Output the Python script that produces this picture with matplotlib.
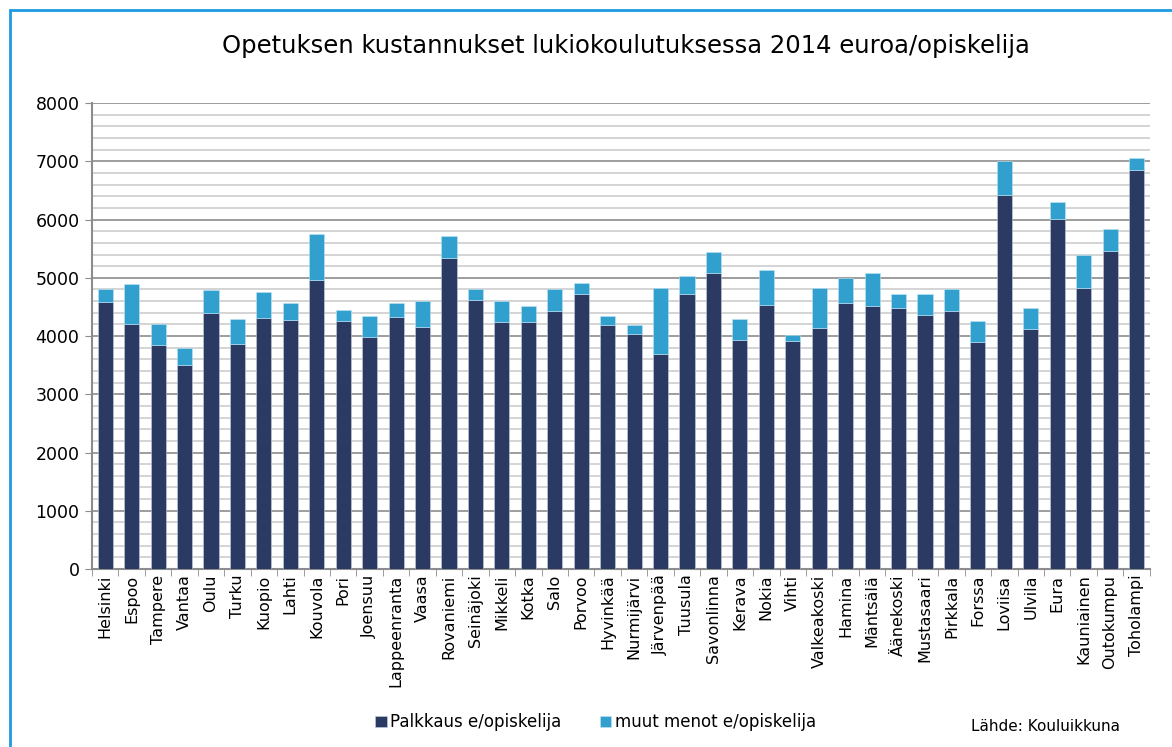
import matplotlib.pyplot as plt
from matplotlib.patches import Rectangle
from matplotlib.ticker import MultipleLocator

kunnat = ["Helsinki", "Espoo", "Tampere", "Vantaa", "Oulu", "Turku", "Kuopio", "Lahti",
          "Kouvola", "Pori", "Joensuu", "Lappeenranta", "Vaasa", "Rovaniemi", "Seinäjoki",
          "Mikkeli", "Kotka", "Salo", "Porvoo", "Hyvinkää", "Nurmijärvi", "Järvenpää",
          "Tuusula", "Savonlinna", "Kerava", "Nokia", "Vihti", "Valkeakoski", "Hamina",
          "Mäntsälä", "Äänekoski", "Mustasaari", "Pirkkala", "Forssa", "Loviisa", "Ulvila",
          "Eura", "Kauniainen", "Outokumpu", "Toholampi"]

# palkkaus e/opiskelija
palkkaus = [4590, 4205, 3840, 3500, 4395, 3870, 4305, 4275, 4970, 4255,
            3980, 4330, 4155, 5340, 4615, 4240, 4240, 4430, 4720, 4185,
            4030, 3690, 4720, 5080, 3930, 4530, 3910, 4135, 4575, 4515,
            4480, 4355, 4430, 3905, 6430, 4120, 6010, 4825, 5460, 6850]

# yhteensä (palkkaus + muut menot)
yhteensa = [4800, 4895, 4210, 3795, 4785, 4290, 4750, 4560, 5745, 4455,
            4345, 4570, 4595, 5720, 4800, 4595, 4515, 4815, 4910, 4345,
            4190, 4825, 5035, 5435, 4285, 5135, 4020, 4825, 5000, 5075,
            4730, 4725, 4805, 4250, 7005, 4475, 6310, 5390, 5840, 7060]

muut = [y - p for y, p in zip(yhteensa, palkkaus)]

tumma = "#2b3a62"
vaalea = "#31a0ce"

fig = plt.figure(figsize=(11.72, 7.47), dpi=100)
ax = fig.add_axes([0.0785, 0.2383, 0.9025, 0.6237])

x = range(len(kunnat))
ax.bar(x, palkkaus, width=0.57, color=tumma, edgecolor="#c8d0e0", linewidth=0.4,
       label="Palkkaus e/opiskelija", zorder=3)
ax.bar(x, muut, width=0.57, bottom=palkkaus, color=vaalea, edgecolor="#bfe6f5",
       linewidth=0.4, label="muut menot e/opiskelija", zorder=3)

ax.set_xlim(-0.5, len(kunnat) - 0.5)
ax.set_ylim(0, 8000)
ax.yaxis.set_major_locator(MultipleLocator(1000))
ax.yaxis.set_minor_locator(MultipleLocator(200))
ax.grid(axis="y", which="minor", color="#d4d4d4", linewidth=1.4, zorder=0)
ax.grid(axis="y", which="major", color="#8c8c8c", linewidth=1.2, zorder=1)

ax.set_xticks(list(x))
ax.set_xticklabels(kunnat, rotation=90, fontsize=11.5)
ax.set_xticks([i - 0.5 for i in range(len(kunnat) + 1)], minor=True)
ax.tick_params(axis="x", which="major", length=0, pad=4)
ax.tick_params(axis="x", which="minor", length=5, color="#8c8c8c", direction="out")
ax.tick_params(axis="y", which="major", length=5, color="#8c8c8c", labelsize=12.5, pad=4)
ax.tick_params(axis="y", which="minor", length=0)

for side in ["top", "right"]:
    ax.spines[side].set_visible(False)
ax.spines["left"].set_color("#8c8c8c")
ax.spines["left"].set_linewidth(1.5)
ax.spines["bottom"].set_color("#8c8c8c")
ax.spines["bottom"].set_linewidth(1.5)

fig.text(0.534, 0.938, "Opetuksen kustannukset lukiokoulutuksessa 2014 euroa/opiskelija",
         ha="center", va="center", fontsize=17.5)

fig.legend(loc="center", bbox_to_anchor=(0.508, 0.033), ncol=2, frameon=False,
           fontsize=12, handlelength=0.7, handleheight=0.7, handletextpad=0.2,
           columnspacing=2.3)
fig.text(0.956, 0.027, "Lähde: Kouluikkuna", ha="right", va="center", fontsize=11)

# sininen kehys kuvan ympärillä
fig.patches.append(Rectangle((10 / 1172, -0.05), 1.2, 1 - 10 / 747 + 0.05,
                             transform=fig.transFigure, fill=False,
                             edgecolor="#1e9be0", linewidth=2))

fig.savefig("out.png", dpi=100)
